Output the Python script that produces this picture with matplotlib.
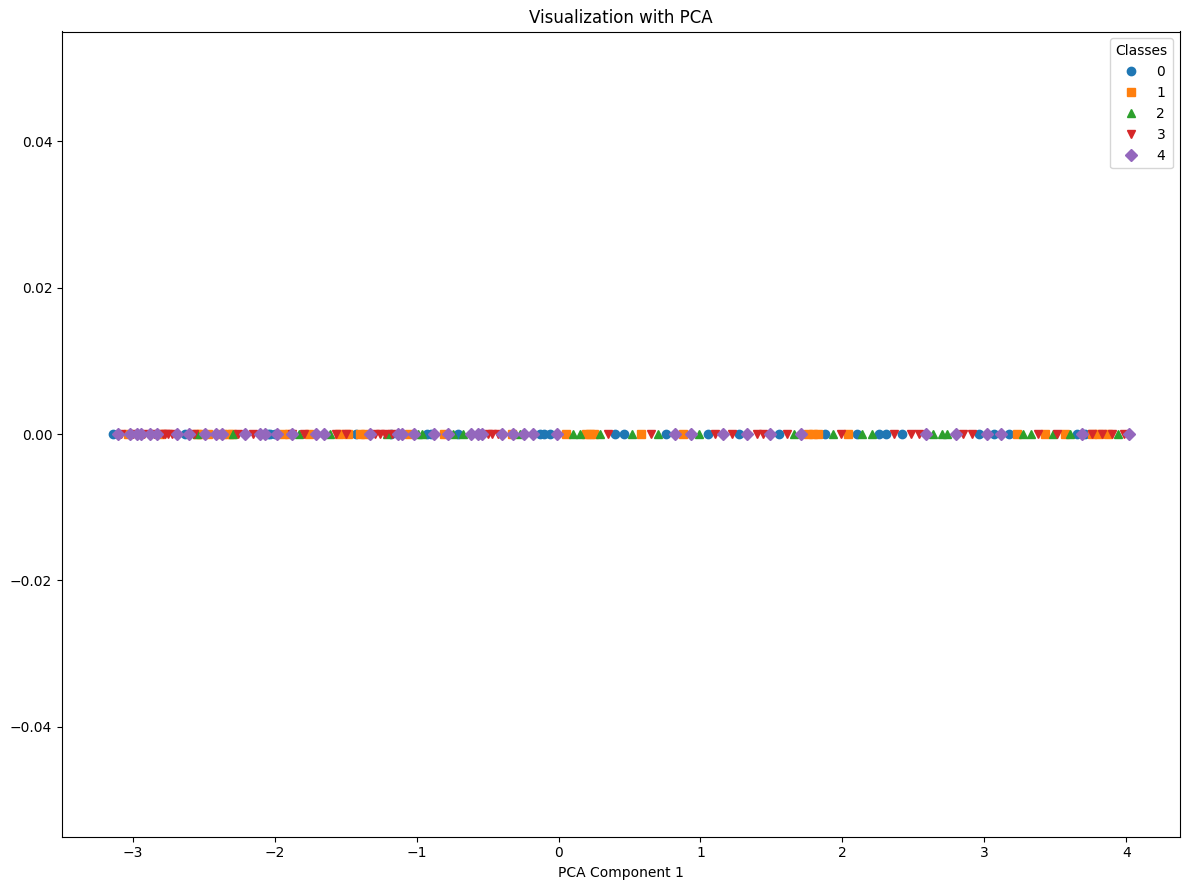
import matplotlib
matplotlib.use('Agg')
import matplotlib.pyplot as plt

# PCA component 1 per class
class_0 = [-3.14, -2.63, -2.05, -2.03, -2.00, -1.43, -1.18, -0.93, -0.90, -0.71, -0.55,
           -0.13, -0.10, -0.06, 0.40, 0.46, 0.76, 1.05, 1.27, 1.55, 1.88,
           2.10, 2.26, 2.31, 2.42, 2.96, 3.07, 3.17, 3.65, 3.71]
class_1 = [-3.03, -2.80, -2.55, -2.52, -2.47, -2.37, -2.32, -2.30, -1.94, -1.90, -1.76,
           -1.55, -1.48, -1.40, -1.36, -1.05, -0.81, -0.33, 0.05, 0.19, 0.22, 0.25, 0.58,
           0.88, 1.76, 1.79, 1.83, 2.04, 3.23, 3.43, 3.57, 3.76, 3.81, 3.87]
class_2 = [-2.55, -2.29, -1.83, -1.61, -1.21, -0.99, -0.96, -0.74, -0.67, -0.27, 0.10, 0.15,
           0.29, 0.52, 0.70, 0.99, 1.66, 1.93, 2.14, 2.21, 2.64, 2.70,
           2.74, 3.27, 3.33, 3.48, 3.60, 3.94]
class_3 = [-3.08, -3.00, -2.92, -2.85, -2.79, -2.77, -2.75, -2.72, -2.57, -2.26, -2.15,
           -1.88, -1.79, -1.57, -1.50, -1.29, -1.26, -1.22, -1.17, -0.50, -0.47, -0.43,
           0.35, 0.65, 1.10, 1.22, 1.40, 1.44, 1.61, 1.99, 2.36, 2.48,
           2.54, 2.85, 2.91, 3.38, 3.51, 3.76, 3.83, 3.90, 3.98]
class_4 = [-3.10, -3.02, -2.97, -2.94, -2.88, -2.83, -2.69, -2.60, -2.49, -2.41,
           -2.37, -2.21, -2.10, -2.07, -1.98, -1.88, -1.71, -1.65, -1.33, -1.13,
           -1.10, -1.02, -0.88, -0.78, -0.62, -0.57, -0.54, -0.40, -0.32, -0.24,
           -0.18, -0.01, 0.82, 0.93, 1.16, 1.33, 1.49, 1.71, 2.59, 2.80,
           3.02, 3.12, 3.69, 4.02]

classes = [class_0, class_1, class_2, class_3, class_4]
labels = ['0', '1', '2', '3', '4']
markers = ['o', 's', '^', 'v', 'D']

fig, ax = plt.subplots(figsize=(11.89, 8.89), dpi=100)
fig.subplots_adjust(left=62/1189, right=1180/1189, top=1-31.5/889, bottom=1-836.5/889)

for xs, label, marker in zip(classes, labels, markers):
    ax.plot(xs, [0]*len(xs), marker=marker, linestyle='none', label=label)

ax.set_ylim(-0.055, 0.055)
ax.set_title('Visualization with PCA')
ax.set_xlabel('PCA Component 1', labelpad=4)
ax.legend(title='Classes', loc='upper right')

fig.savefig('out.png', dpi=100)
